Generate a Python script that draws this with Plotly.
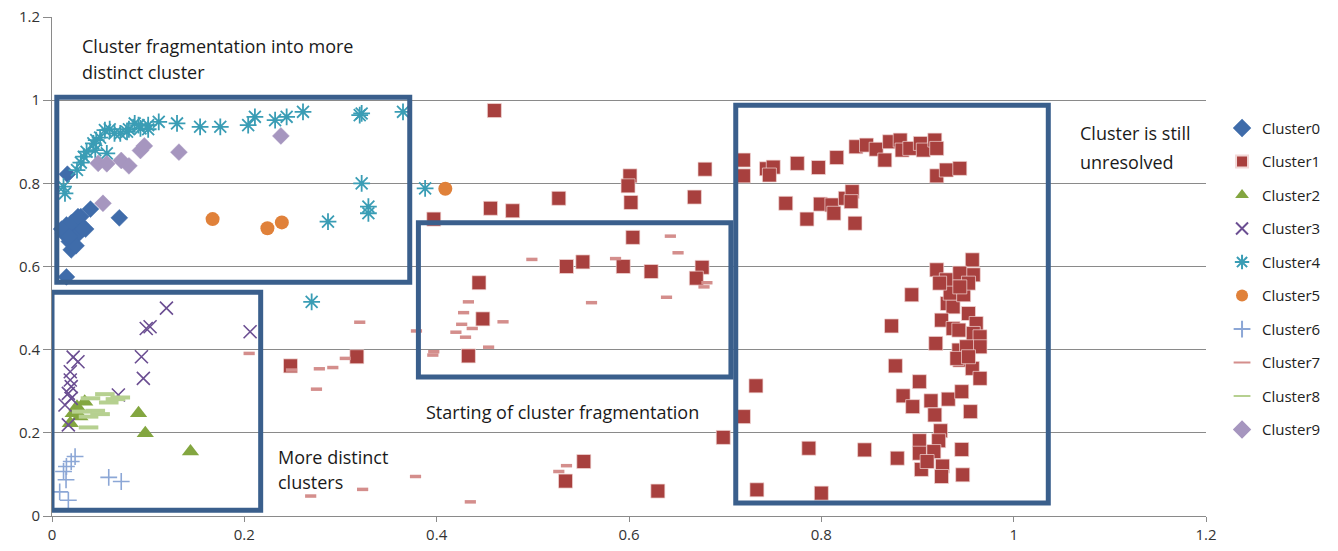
import plotly.graph_objects as go

# ---------------- data ----------------
c0_x = [0.015, 0.016, 0.020, 0.018, 0.022, 0.025, 0.030, 0.028, 0.012, 0.015, 0.030, 0.035, 0.020, 0.027, 0.040, 0.070, 0.025, 0.032, 0.010, 0.018]
c0_y = [0.575, 0.822, 0.640, 0.660, 0.670, 0.690, 0.700, 0.680, 0.680, 0.700, 0.720, 0.690, 0.705, 0.720, 0.738, 0.717, 0.650, 0.690, 0.690, 0.672]

c1_x = [0.248, 0.317, 0.460, 0.397, 0.456, 0.479, 0.527, 0.601, 0.599, 0.602, 0.679, 0.668, 0.604, 0.535, 0.552, 0.594, 0.623, 0.676, 0.670, 0.444,
        0.448, 0.433, 0.698, 0.553, 0.534, 0.630,
        0.719, 0.719, 0.743, 0.750, 0.746, 0.775, 0.797, 0.816, 0.836, 0.847, 0.857, 0.866, 0.871, 0.882, 0.884, 0.892, 0.903, 0.906, 0.918, 0.920,
        0.920, 0.930, 0.944, 0.763, 0.785, 0.799, 0.811, 0.813, 0.825, 0.832, 0.831, 0.835,
        0.920, 0.957, 0.958, 0.930, 0.944,
        0.894, 0.873, 0.919, 0.877, 0.902, 0.885, 0.895, 0.914, 0.932, 0.946, 0.918, 0.955, 0.924, 0.922, 0.902, 0.902, 0.917, 0.946, 0.879,
        0.904, 0.926, 0.925, 0.947, 0.910, 0.787, 0.845, 0.733, 0.800, 0.732, 0.719,
        0.931, 0.937, 0.925, 0.937, 0.943, 0.953, 0.961, 0.958, 0.965, 0.965, 0.943, 0.944, 0.957, 0.965, 0.934, 0.948, 0.923, 0.953, 0.944,
        0.951, 0.941, 0.953]
c1_y = [0.361, 0.383, 0.975, 0.714, 0.740, 0.734, 0.764, 0.818, 0.794, 0.754, 0.834, 0.767, 0.670, 0.600, 0.611, 0.600, 0.588, 0.598, 0.572, 0.561,
        0.474, 0.385, 0.189, 0.131, 0.084, 0.060,
        0.856, 0.818, 0.835, 0.839, 0.820, 0.848, 0.838, 0.862, 0.888, 0.892, 0.882, 0.856, 0.900, 0.904, 0.880, 0.884, 0.896, 0.880, 0.904, 0.884,
        0.818, 0.832, 0.836, 0.752, 0.714, 0.750, 0.748, 0.728, 0.764, 0.780, 0.756, 0.704,
        0.592, 0.616, 0.580, 0.568, 0.584,
        0.532, 0.457, 0.415, 0.361, 0.323, 0.289, 0.263, 0.277, 0.281, 0.299, 0.243, 0.251, 0.205, 0.181, 0.181, 0.151, 0.155, 0.160, 0.139,
        0.112, 0.120, 0.095, 0.099, 0.131, 0.163, 0.159, 0.063, 0.055, 0.313, 0.239,
        0.511, 0.503, 0.471, 0.451, 0.447, 0.487, 0.463, 0.439, 0.431, 0.407, 0.399, 0.375, 0.355, 0.331, 0.536, 0.532, 0.560, 0.560, 0.551,
        0.407, 0.379, 0.383]

c2_x = [0.090, 0.097, 0.144, 0.034, 0.026, 0.029, 0.019, 0.022]
c2_y = [0.247, 0.199, 0.155, 0.275, 0.263, 0.239, 0.223, 0.247]

c3_x = [0.119, 0.102, 0.098, 0.206, 0.022, 0.027, 0.093, 0.095, 0.019, 0.019, 0.020, 0.017, 0.069, 0.0135, 0.017, 0.020]
c3_y = [0.500, 0.455, 0.451, 0.443, 0.382, 0.371, 0.383, 0.331, 0.347, 0.327, 0.311, 0.295, 0.291, 0.267, 0.219, 0.283]

c4_x = [0.012, 0.0135, 0.026, 0.033, 0.036, 0.043, 0.046, 0.057, 0.055, 0.071, 0.078, 0.086, 0.092, 0.100, 0.111, 0.130, 0.154, 0.175,
        0.204, 0.211, 0.232, 0.244, 0.261, 0.320, 0.322, 0.365, 0.322, 0.329, 0.329, 0.287, 0.388, 0.270,
        0.030, 0.045, 0.050, 0.060, 0.065, 0.080, 0.090, 0.100]
c4_y = [0.792, 0.776, 0.832, 0.864, 0.876, 0.896, 0.904, 0.872, 0.928, 0.920, 0.924, 0.944, 0.932, 0.940, 0.948, 0.944, 0.936, 0.936,
        0.940, 0.960, 0.952, 0.960, 0.972, 0.964, 0.968, 0.972, 0.800, 0.744, 0.728, 0.708, 0.788, 0.515,
        0.850, 0.880, 0.910, 0.930, 0.920, 0.930, 0.940, 0.930]

c5_x = [0.167, 0.224, 0.239, 0.409]
c5_y = [0.714, 0.692, 0.706, 0.787]

c6_x = [0.024, 0.020, 0.015, 0.012, 0.0146, 0.059, 0.072, 0.008, 0.017]
c6_y = [0.143, 0.131, 0.119, 0.107, 0.087, 0.093, 0.083, 0.058, 0.038]

c7_x = [0.205, 0.320, 0.379, 0.249, 0.278, 0.292, 0.305, 0.275, 0.378, 0.323, 0.269,
        0.499, 0.586, 0.643, 0.651, 0.681, 0.678,
        0.433, 0.428, 0.426, 0.437, 0.420, 0.430, 0.469, 0.454, 0.397, 0.396, 0.561, 0.639, 0.435, 0.535, 0.527]
c7_y = [0.391, 0.466, 0.445, 0.351, 0.354, 0.357, 0.379, 0.305, 0.095, 0.064, 0.048,
        0.617, 0.619, 0.673, 0.633, 0.561, 0.551,
        0.515, 0.489, 0.461, 0.451, 0.442, 0.430, 0.467, 0.406, 0.395, 0.387, 0.513, 0.526, 0.034, 0.121, 0.107]

c8_x = [0.040, 0.055, 0.059, 0.071, 0.066, 0.045, 0.050, 0.038, 0.038, 0.031]
c8_y = [0.283, 0.293, 0.273, 0.285, 0.281, 0.253, 0.245, 0.239, 0.213, 0.251]

c9_x = [0.048, 0.057, 0.072, 0.080, 0.092, 0.096, 0.132, 0.238, 0.053]
c9_y = [0.848, 0.847, 0.855, 0.842, 0.879, 0.890, 0.875, 0.914, 0.752]

names = ["Cluster0", "Cluster1", "Cluster2", "Cluster3", "Cluster4",
         "Cluster5", "Cluster6", "Cluster7", "Cluster8", "Cluster9"]
xs = [c0_x, c1_x, c2_x, c3_x, c4_x, c5_x, c6_x, c7_x, c8_x, c9_x]
ys = [c0_y, c1_y, c2_y, c3_y, c4_y, c5_y, c6_y, c7_y, c8_y, c9_y]

x_ticks = [0, 0.2, 0.4, 0.6, 0.8, 1, 1.2]
y_ticks = [0, 0.2, 0.4, 0.6, 0.8, 1, 1.2]

# annotation boxes: (x0, y0, x1, y1) in data units
boxes = [(0.005, 0.562, 0.372, 1.007),
         (0.000, 0.014, 0.217, 0.538),
         (0.381, 0.334, 0.706, 0.705),
         (0.711, 0.031, 1.036, 0.988)]

notes = [("Cluster fragmentation into more", 0.029, 1.130),
         ("distinct cluster", 0.029, 1.068),
         ("More distinct", 0.233, 0.142),
         ("clusters", 0.233, 0.082),
         ("Starting of cluster fragmentation", 0.387, 0.250),
         ("Cluster is still", 1.067, 0.921),
         ("unresolved", 1.067, 0.851)]

# ---------------- styles ----------------
styles = [
    dict(symbol="diamond", size=13, color="#3F6CAA", line=dict(width=0.5, color="#3F6CAA")),
    dict(symbol="square", size=14, color="#A8403E", line=dict(width=0.7, color="#F2D8D7")),
    dict(symbol="triangle-up", size=15, color="#83A640", line=dict(width=0)),
    dict(symbol="x-thin-open", size=13, color="#6B4E92", line=dict(width=1.6, color="#6B4E92")),
    dict(symbol="asterisk-open", size=14, color="#3A9DB5", line=dict(width=1.8, color="#3A9DB5")),
    dict(symbol="circle", size=14, color="#E0813A", line=dict(width=0)),
    dict(symbol="cross-thin-open", size=12, color="#8CA7D6", line=dict(width=1.6, color="#8CA7D6")),
    dict(symbol="line-ew-open", size=8, color="#D48E8C", line=dict(width=3.5, color="#D48E8C")),
    dict(symbol="line-ew-open", size=14, color="#B6D090", line=dict(width=4, color="#B6D090")),
    dict(symbol="diamond", size=13, color="#A696BF", line=dict(width=0.5, color="#A696BF")),
]

fig = go.Figure()
for i in range(10):
    fig.add_trace(go.Scatter(x=xs[i], y=ys[i], mode="markers", name=names[i],
                             legendgroup=names[i], marker=styles[i]))

for (x0, y0, x1, y1) in boxes:
    fig.add_shape(type="rect", xref="x", yref="y", x0=x0, y0=y0, x1=x1, y1=y1,
                  line=dict(color="#3A5F8C", width=5), fillcolor="rgba(0,0,0,0)")

for (t, ax, ay) in notes:
    fig.add_annotation(text=t, x=ax, y=ay, xref="x", yref="y", showarrow=False,
                       xanchor="left", yanchor="middle",
                       font=dict(family="Open Sans", size=18, color="#1a1a1a"))

fig.update_layout(
    width=1338, height=551,
    margin=dict(l=52, r=132, t=17, b=35, autoexpand=False),
    plot_bgcolor="white", paper_bgcolor="white",
    font=dict(family="Open Sans", size=14, color="#333333"),
    showlegend=True,
    legend=dict(x=1.0139, y=0.81, xanchor="left", yanchor="top",
                tracegroupgap=11, itemwidth=30, font=dict(size=15, color="#222222"),
                itemsizing="constant", bgcolor="rgba(0,0,0,0)"),
)
fig.update_xaxes(range=[0, 1.2], tickvals=x_ticks, ticktext=[str(v) for v in x_ticks],
                 showgrid=False, zeroline=False, showline=True, linecolor="#8a8a8a", linewidth=1,
                 ticks="outside", ticklen=5, tickcolor="#8a8a8a",
                 tickfont=dict(size=15, color="#333333"))
fig.update_yaxes(range=[0, 1.2], tickvals=y_ticks, ticktext=[str(v) for v in y_ticks],
                 showgrid=True, gridcolor="#8a8a8a", gridwidth=1, zeroline=False,
                 showline=True, linecolor="#8a8a8a", linewidth=1,
                 ticks="outside", ticklen=8, tickcolor="#8a8a8a",
                 tickfont=dict(size=15, color="#333333"))

fig.write_html("out.html")
